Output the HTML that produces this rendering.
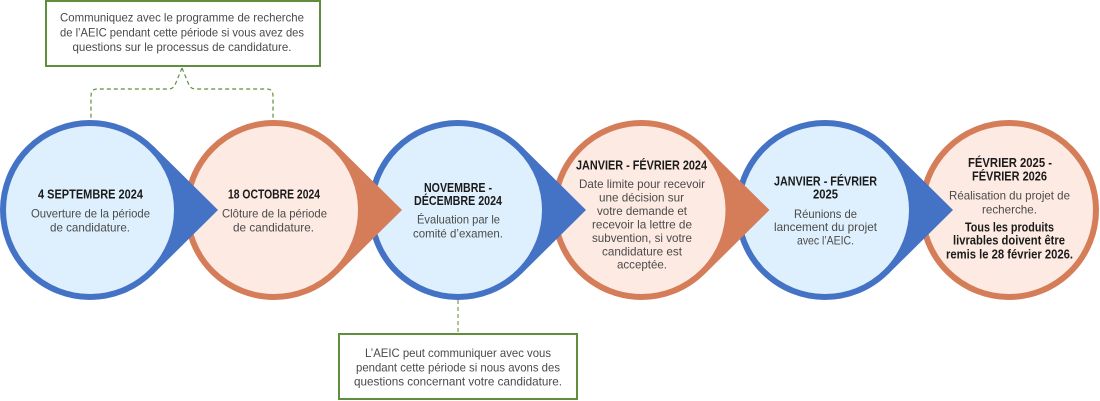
<!DOCTYPE html>
<html>
<head>
<meta charset="utf-8">
<style>
  html,body{margin:0;padding:0;background:#fff;}
  svg{display:block;}
  text{font-family:"Liberation Sans", Arial, sans-serif;}
  .t{font-weight:bold;font-size:12.5px;fill:#1b1b1b;}
  .b{font-size:12px;fill:#4a4a4a;}
  .bb{font-weight:bold;font-size:12.5px;fill:#1b1b1b;}
  .bx{font-size:12px;fill:#4a4a4a;}
</style>
</head>
<body>
<svg width="1100" height="401" viewBox="0 0 1100 401" xmlns="http://www.w3.org/2000/svg">
  <!-- top note box -->
  <rect x="46" y="1" width="274" height="65" fill="#fff" stroke="#5f8f3c" stroke-width="2"/>
  <text class="bx" x="182" y="21.5" text-anchor="middle" textLength="244" lengthAdjust="spacingAndGlyphs">Communiquez avec le programme de recherche</text>
  <text class="bx" x="182" y="36.5" text-anchor="middle" textLength="244" lengthAdjust="spacingAndGlyphs">de l’AEIC pendant cette période si vous avez des</text>
  <text class="bx" x="182" y="51" text-anchor="middle" textLength="219" lengthAdjust="spacingAndGlyphs">questions sur le processus de candidature.</text>

  <!-- top dashed bracket -->
  <path d="M182,68 L175,85 Q173,89 168,89 L97,89 Q91,89 91,96 L91,121" fill="none" stroke="#5f8f3c" stroke-width="1.2" stroke-dasharray="4 3"/>
  <path d="M182,68 L189,85 Q191,89 196,89 L267,89 Q273,89 273,96 L273,121" fill="none" stroke="#5f8f3c" stroke-width="1.2" stroke-dasharray="4 3"/>

  <!-- bottom dashed connector -->
  <path d="M458,300 L458,332" fill="none" stroke="#8fb270" stroke-width="1.5" stroke-dasharray="4 3"/>

  <!-- bottom note box -->
  <rect x="339" y="334" width="238" height="65" fill="#fff" stroke="#5f8f3c" stroke-width="2"/>
  <text class="bx" x="458" y="357" text-anchor="middle" textLength="186" lengthAdjust="spacingAndGlyphs">L’AEIC peut communiquer avec vous</text>
  <text class="bx" x="458" y="371.5" text-anchor="middle" textLength="204" lengthAdjust="spacingAndGlyphs">pendant cette période si nous avons des</text>
  <text class="bx" x="458" y="385.5" text-anchor="middle" textLength="208" lengthAdjust="spacingAndGlyphs">questions concernant votre candidature.</text>

  <!-- circle 6 (orange) -->
  <circle cx="1009" cy="210" r="87" fill="#fdeae2" stroke="#d57d59" stroke-width="6"/>
  <!-- circle 5 (blue) -->
  <polygon points="825,146 888.3,146 953,210 888.3,274 825,274" fill="#4472c4"/>
  <circle cx="825" cy="210" r="87" fill="#def0fd" stroke="#4472c4" stroke-width="6"/>
  <!-- circle 4 (orange) -->
  <polygon points="641.5,146 704.8,146 769.5,210 704.8,274 641.5,274" fill="#d57d59"/>
  <circle cx="641.5" cy="210" r="87" fill="#fdeae2" stroke="#d57d59" stroke-width="6"/>
  <!-- circle 3 (blue) -->
  <polygon points="458,146 521.3,146 586,210 521.3,274 458,274" fill="#4472c4"/>
  <circle cx="458" cy="210" r="87" fill="#def0fd" stroke="#4472c4" stroke-width="6"/>
  <!-- circle 2 (orange) -->
  <polygon points="274,146 337.3,146 402,210 337.3,274 274,274" fill="#d57d59"/>
  <circle cx="274" cy="210" r="87" fill="#fdeae2" stroke="#d57d59" stroke-width="6"/>
  <!-- circle 1 (blue) -->
  <polygon points="90,146 153.3,146 218,210 153.3,274 90,274" fill="#4472c4"/>
  <circle cx="90" cy="210" r="87" fill="#def0fd" stroke="#4472c4" stroke-width="6"/>

  <!-- texts circle 1 -->
  <text class="t" x="90.5" y="198.5" text-anchor="middle" textLength="105" lengthAdjust="spacingAndGlyphs">4 SEPTEMBRE 2024</text>
  <text class="b" x="90.5" y="217.5" text-anchor="middle" textLength="119" lengthAdjust="spacingAndGlyphs">Ouverture de la période</text>
  <text class="b" x="90" y="231.5" text-anchor="middle" textLength="80" lengthAdjust="spacingAndGlyphs">de candidature.</text>

  <!-- texts circle 2 -->
  <text class="t" x="274" y="198.5" text-anchor="middle" textLength="92" lengthAdjust="spacingAndGlyphs">18 OCTOBRE 2024</text>
  <text class="b" x="274.5" y="217.5" text-anchor="middle" textLength="105" lengthAdjust="spacingAndGlyphs">Clôture de la période</text>
  <text class="b" x="273.5" y="231.5" text-anchor="middle" textLength="81" lengthAdjust="spacingAndGlyphs">de candidature.</text>

  <!-- texts circle 3 -->
  <text class="t" x="458" y="192" text-anchor="middle" textLength="68" lengthAdjust="spacingAndGlyphs">NOVEMBRE -</text>
  <text class="t" x="458" y="205" text-anchor="middle" textLength="88" lengthAdjust="spacingAndGlyphs">DÉCEMBRE 2024</text>
  <text class="b" x="458.5" y="223.5" text-anchor="middle" textLength="83" lengthAdjust="spacingAndGlyphs">Évaluation par le</text>
  <text class="b" x="458" y="237.5" text-anchor="middle" textLength="90" lengthAdjust="spacingAndGlyphs">comité d’examen.</text>

  <!-- texts circle 4 -->
  <text class="t" x="641.5" y="169.5" text-anchor="middle" textLength="131" lengthAdjust="spacingAndGlyphs">JANVIER - FÉVRIER 2024</text>
  <text class="b" x="642" y="188" text-anchor="middle" textLength="126" lengthAdjust="spacingAndGlyphs">Date limite pour recevoir</text>
  <text class="b" x="641.5" y="201.5" text-anchor="middle" textLength="85" lengthAdjust="spacingAndGlyphs">une décision sur</text>
  <text class="b" x="642" y="215" text-anchor="middle" textLength="90" lengthAdjust="spacingAndGlyphs">votre demande et</text>
  <text class="b" x="642" y="228.5" text-anchor="middle" textLength="100" lengthAdjust="spacingAndGlyphs">recevoir la lettre de</text>
  <text class="b" x="642" y="242" text-anchor="middle" textLength="100" lengthAdjust="spacingAndGlyphs">subvention, si votre</text>
  <text class="b" x="642" y="255.5" text-anchor="middle" textLength="80" lengthAdjust="spacingAndGlyphs">candidature est</text>
  <text class="b" x="642" y="268.5" text-anchor="middle" textLength="50" lengthAdjust="spacingAndGlyphs">acceptée.</text>

  <!-- texts circle 5 -->
  <text class="t" x="825.5" y="185.5" text-anchor="middle" textLength="103" lengthAdjust="spacingAndGlyphs">JANVIER - FÉVRIER</text>
  <text class="t" x="825.5" y="198.5" text-anchor="middle" textLength="25" lengthAdjust="spacingAndGlyphs">2025</text>
  <text class="b" x="825.5" y="218" text-anchor="middle" textLength="63" lengthAdjust="spacingAndGlyphs">Réunions de</text>
  <text class="b" x="825.5" y="231" text-anchor="middle" textLength="103" lengthAdjust="spacingAndGlyphs">lancement du projet</text>
  <text class="b" x="825.5" y="244.5" text-anchor="middle" textLength="57" lengthAdjust="spacingAndGlyphs">avec l’AEIC.</text>

  <!-- texts circle 6 -->
  <text class="t" x="1010" y="167" text-anchor="middle" textLength="84" lengthAdjust="spacingAndGlyphs">FÉVRIER 2025 -</text>
  <text class="t" x="1009.5" y="180.5" text-anchor="middle" textLength="75" lengthAdjust="spacingAndGlyphs">FÉVRIER 2026</text>
  <text class="b" x="1009.5" y="199.5" text-anchor="middle" textLength="121" lengthAdjust="spacingAndGlyphs">Réalisation du projet de</text>
  <text class="b" x="1009.5" y="213.5" text-anchor="middle" textLength="55" lengthAdjust="spacingAndGlyphs">recherche.</text>
  <text class="bb" x="1009.5" y="231.5" text-anchor="middle" textLength="89" lengthAdjust="spacingAndGlyphs">Tous les produits</text>
  <text class="bb" x="1009" y="244.5" text-anchor="middle" textLength="112" lengthAdjust="spacingAndGlyphs">livrables doivent être</text>
  <text class="bb" x="1009.5" y="258.5" text-anchor="middle" textLength="127" lengthAdjust="spacingAndGlyphs">remis le 28 février 2026.</text>
</svg>
</body>
</html>
